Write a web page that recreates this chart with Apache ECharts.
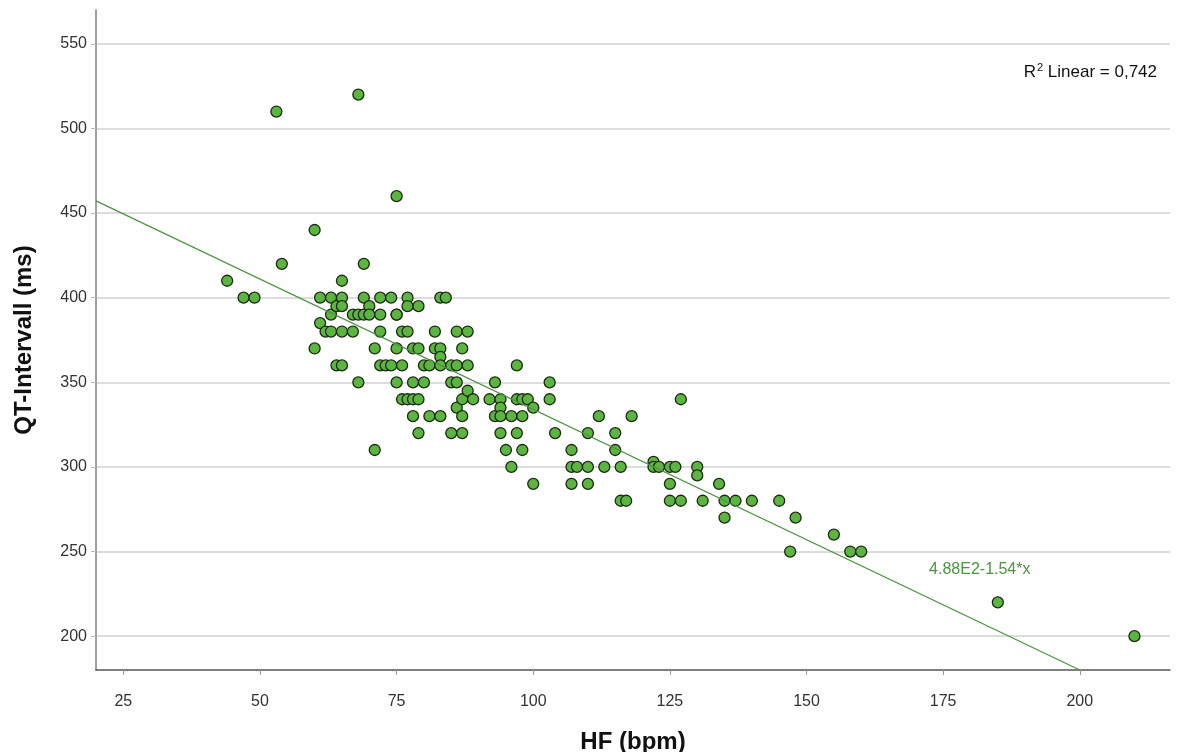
<!DOCTYPE html>
<html style="height: 100%">
<head>
    <meta charset="utf-8">
</head>
<body style="height: 100%; margin: 0; background: #fff">
<div id="container" style="width: 1193px; height: 752px"></div>
<script src="https://cdn.jsdelivr.net/npm/echarts@6/dist/echarts.min.js"></script>
<script type="text/javascript">
    // HF (bpm) and QT-Intervall (ms), one pair per point
    var hf = [44, 47, 49, 53, 54, 60, 60, 61, 61, 62, 63, 63, 63, 64, 64,
        65, 65, 65, 65, 65, 67, 67, 68, 68, 68, 69, 69, 69, 70, 70,
        71, 71, 72, 72, 72, 72, 73, 74, 74, 75, 75, 75, 75, 75,
        76, 76, 76, 77, 77, 77, 77, 78, 78, 78, 78, 79, 79, 79, 79,
        80, 80, 81, 81, 82, 82, 83, 83, 83, 83, 83, 84, 85, 85, 85,
        86, 86, 86, 86, 87, 87, 87, 87, 88, 88, 88, 89, 92, 93, 93,
        94, 94, 94, 94, 95, 96, 96, 97, 97, 97, 98, 98, 98, 99, 100, 100,
        103, 103, 104, 107, 107, 107, 108, 110, 110, 110, 112, 113, 115, 115,
        116, 116, 117, 118, 122, 122, 123, 125, 125, 125, 126, 127, 127,
        130, 130, 131, 134, 135, 135, 137, 140, 145, 147, 148, 155, 158, 160,
        185, 210];
    var qt = [410, 400, 400, 510, 420, 440, 370, 400, 385, 380, 400, 390, 380, 395, 360,
        410, 400, 395, 380, 360, 390, 380, 520, 390, 350, 420, 400, 390, 395, 390,
        370, 310, 400, 390, 380, 360, 360, 400, 360, 460, 390, 370, 350, 390,
        380, 360, 340, 400, 395, 380, 340, 370, 350, 340, 330, 395, 370, 340, 320,
        360, 350, 360, 330, 380, 370, 400, 370, 365, 360, 330, 400, 360, 350, 320,
        380, 360, 350, 335, 370, 340, 330, 320, 380, 360, 345, 340, 340, 350, 330,
        340, 335, 330, 320, 310, 330, 300, 360, 340, 320, 340, 330, 310, 340, 335, 290,
        350, 340, 320, 310, 300, 290, 300, 320, 300, 290, 330, 300, 320, 310,
        300, 280, 280, 330, 303, 300, 300, 300, 290, 280, 300, 340, 280,
        300, 295, 280, 290, 280, 270, 280, 280, 280, 250, 270, 260, 250, 250,
        220, 200];

    var xTicks = [25, 50, 75, 100, 125, 150, 175, 200];
    var yTicks = [200, 250, 300, 350, 400, 450, 500, 550];

    // linear fit as printed on the chart: 4.88E2 - 1.54*x, R2 = 0,742
    var fitA = 488;
    var fitB = -1.54;
    var fitX = [20, 200];
    var fitLabel = '4.88E2-1.54*x';
    var r2Text = '0,742';

    var points = [];
    for (var i = 0; i < hf.length; i++) {
        points.push([hf[i], qt[i]]);
    }
    var fitLine = fitX.map(function (x) { return [x, fitA + fitB * x]; });

    var dom = document.getElementById("container");
    var myChart = echarts.init(dom);
    var font = 'Liberation Sans, Arial, sans-serif';

    var option = {
        animation: false,
        backgroundColor: '#fff',
        grid: {left: 96, right: 23, top: 10, bottom: 82, outerBoundsMode: 'none', containLabel: false},
        xAxis: {
            type: 'value',
            min: 20,
            max: 216.5,
            name: 'HF (bpm)',
            nameLocation: 'middle',
            nameGap: 60,
            nameTextStyle: {fontFamily: font, fontSize: 24, fontWeight: 'bold', color: '#111'},
            axisLine: {lineStyle: {color: '#555', width: 1.5}},
            axisTick: {show: true, length: 5, customValues: xTicks, lineStyle: {color: '#999'}},
            axisLabel: {customValues: xTicks, margin: 24, fontFamily: font, fontSize: 16, color: '#333'},
            splitLine: {show: false}
        },
        yAxis: {
            type: 'value',
            min: 180,
            max: 570,
            name: 'QT-Intervall (ms)',
            nameLocation: 'middle',
            nameGap: 60,
            nameTextStyle: {fontFamily: font, fontSize: 24, fontWeight: 'bold', color: '#111'},
            axisLine: {show: true, lineStyle: {color: '#a0a0a0', width: 2}},
            axisTick: {show: true, length: 5, customValues: yTicks, lineStyle: {color: '#bbb'}},
            axisLabel: {customValues: yTicks, margin: 9, fontFamily: font, fontSize: 16, color: '#333'},
            splitLine: {show: true, lineStyle: {color: '#d2d2d2', width: 1.5}}
        },
        graphic: [{
            type: 'text',
            right: 36,
            top: 62,
            style: {
                text: '{a|R}{s|2}{a| Linear = ' + r2Text + '}',
                rich: {
                    a: {fontFamily: font, fontSize: 17, fill: '#111'},
                    s: {fontFamily: font, fontSize: 11, fill: '#111', padding: [0, 0, 9, 1]}
                }
            }
        }],
        series: [{
            type: 'scatter',
            data: points,
            symbolSize: 11,
            itemStyle: {color: '#5bb540', borderColor: '#1c2a12', borderWidth: 1.3, opacity: 1},
            z: 2
        }, {
            type: 'line',
            data: fitLine,
            symbol: 'none',
            lineStyle: {color: '#4c9441', width: 1.2},
            z: 3,
            markPoint: {
                symbol: 'circle',
                symbolSize: 0,
                data: [{coord: [181.7, 239.6]}],
                label: {
                    show: true,
                    position: 'inside',
                    formatter: fitLabel,
                    fontFamily: font,
                    fontSize: 16,
                    color: '#4c9441'
                }
            }
        }]
    };
    myChart.setOption(option);
</script>
</body>
</html>
